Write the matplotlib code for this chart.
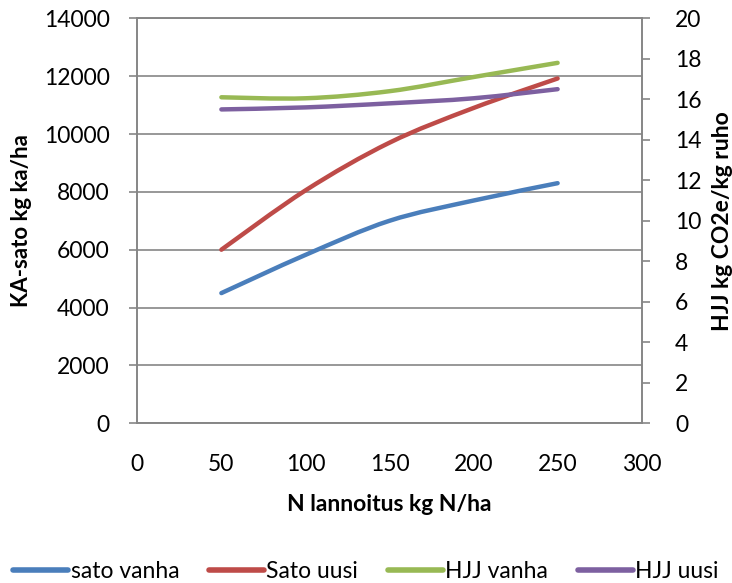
import matplotlib
matplotlib.use("Agg")
import matplotlib.pyplot as plt
import numpy as np
from matplotlib.path import Path
from matplotlib.patches import PathPatch
from matplotlib.lines import Line2D

# data
n_rates = [50, 100, 150, 200, 250]
sato_vanha = [4500, 5820, 7000, 7700, 8300]
sato_uusi = [6000, 8050, 9700, 10900, 11920]
hjj_vanha = [16.1, 16.05, 16.4, 17.1, 17.8]
hjj_uusi = [15.5, 15.6, 15.8, 16.05, 16.5]
labels = ["sato vanha", "Sato uusi", "HJJ vanha", "HJJ uusi"]
colors = ["#4A7EBB", "#BE4B48", "#98B954", "#7D60A0"]

plt.rcParams['font.family'] = ['Lato', 'DejaVu Sans']

def smooth_path(xs, ys, tension=1/6):
    xs = np.asarray(xs, float); ys = np.asarray(ys, float)
    n = len(xs)
    verts = [(xs[0], ys[0])]
    codes = [Path.MOVETO]
    for i in range(n - 1):
        p0 = np.array([xs[max(i - 1, 0)], ys[max(i - 1, 0)]])
        p1 = np.array([xs[i], ys[i]])
        p2 = np.array([xs[i + 1], ys[i + 1]])
        p3 = np.array([xs[min(i + 2, n - 1)], ys[min(i + 2, n - 1)]])
        c1 = p1 + (p2 - p0) * tension
        c2 = p2 - (p3 - p1) * tension
        verts += [tuple(c1), tuple(c2), tuple(p2)]
        codes += [Path.CURVE4] * 3
    return Path(verts, codes)

fig = plt.figure(figsize=(7.32, 5.83), dpi=100)
ax = fig.add_axes([0.1876, 0.274, 0.6890, 0.6946])
ax2 = ax.twinx()

grid_c = "#868686"
ax.set_xlim(0, 300)
ax.set_ylim(0, 14000)
ax2.set_ylim(0, 20)
ax.set_xticks(np.arange(0, 301, 50))
ax.set_yticks(np.arange(0, 14001, 2000))
ax2.set_yticks(np.arange(0, 21, 2))
ax.yaxis.grid(True, color=grid_c, lw=1.2)
ax.set_axisbelow(True)
for a in (ax, ax2):
    for s in a.spines.values():
        s.set_color(grid_c)
        s.set_linewidth(1.2)
ax.tick_params(axis='y', labelsize=16.5, color=grid_c, length=6, width=1.2,
               direction='out', pad=14)
ax.tick_params(axis='x', labelsize=16.5, length=0, pad=22)
ax2.tick_params(axis='y', labelsize=16.5, color=grid_c, length=6, width=1.2,
                direction='out', pad=18)

for ys, c, a in [(sato_vanha, colors[0], ax), (sato_uusi, colors[1], ax),
                 (hjj_vanha, colors[2], ax2), (hjj_uusi, colors[3], ax2)]:
    patch = PathPatch(smooth_path(n_rates, ys), fill=False, edgecolor=c, lw=3.2,
                      capstyle='round', joinstyle='round')
    a.add_patch(patch)

ax.set_xlabel("N lannoitus kg N/ha", fontsize=16.5, fontweight='bold', labelpad=14)
ax.set_ylabel("KA-sato kg ka/ha", fontsize=16, fontweight='bold')
ax2.set_ylabel("HJJ kg CO2e/kg ruho", fontsize=16.5, fontweight='bold')
ax.yaxis.set_label_coords(-0.209, 0.5)
ax2.yaxis.set_label_coords(1.139, 0.5)

handles = [Line2D([0], [0], color=c, lw=4, solid_capstyle='round') for c in colors]
fig.legend(handles, labels, loc='center', bbox_to_anchor=(0.5, 0.02), ncol=4,
           frameon=False, fontsize=16.5, handlelength=2.4, handletextpad=0.1,
           columnspacing=1.3)

fig.savefig("out.png", dpi=100)
